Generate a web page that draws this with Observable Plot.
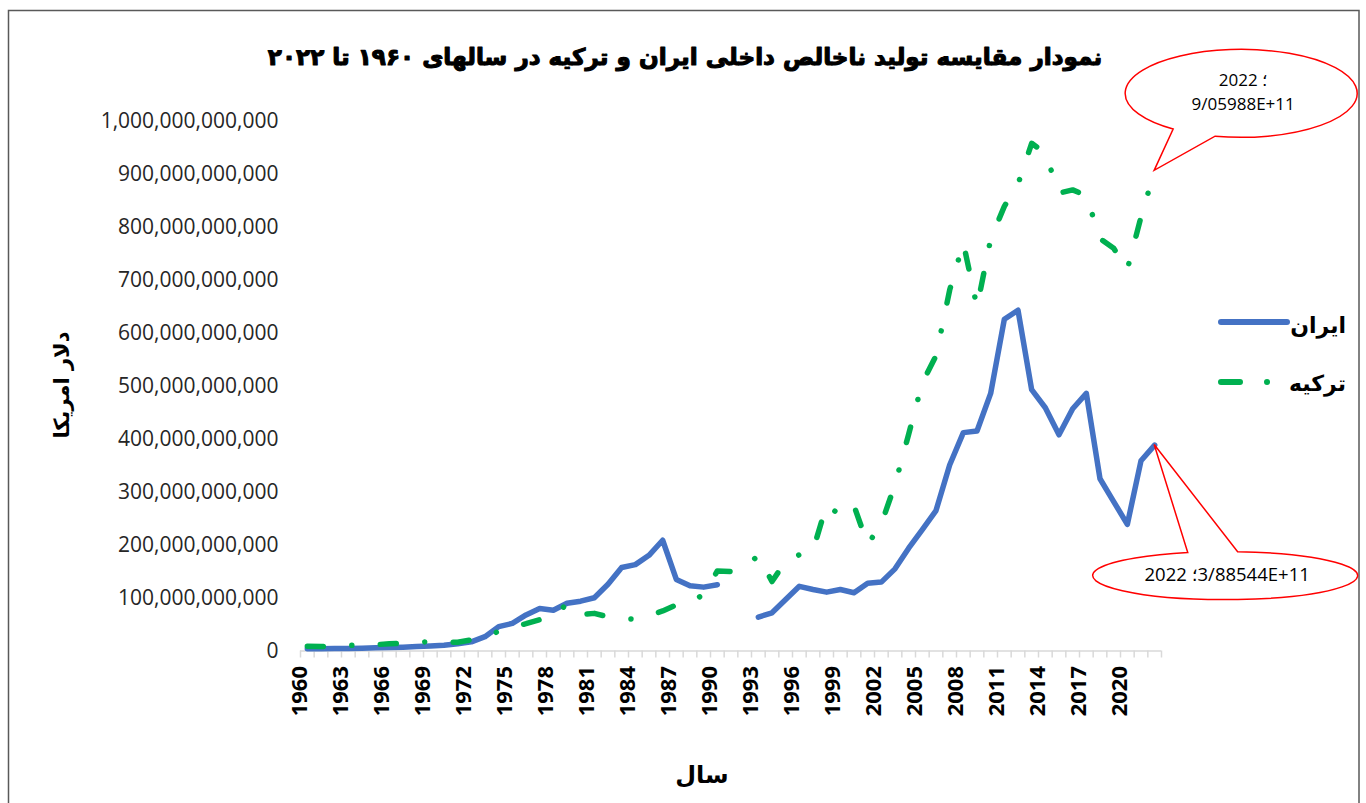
<!DOCTYPE html>
<html><head><meta charset="utf-8">
<script src="https://cdn.jsdelivr.net/npm/d3@7"></script>
<script src="https://cdn.jsdelivr.net/npm/@observablehq/plot@0.6"></script>
<style>
html,body{margin:0;padding:0;background:#fff;}
#chart svg{display:block;}
</style></head><body><div id="chart"></div>
<script>
// ---- data (billions of US dollars) ----
const years = d3.range(1960, 2023);
const iranGDP = [4.2,4.4,4.7,4.9,5.4,6.2,6.6,7.3,8.4,9.5,
  11,13.7,17.2,27,46,52,68,80,77,90,
  94,100.5,126,157.6,163,180.6,209,135,123,120.5,
  125,null,null,64,72,97,122,116,111,116,
  110,128,130,155,194,229,265,351,412,415,
  486,626,643,493,459,408,457,486,325,282,
  239,359,388.5];
const turkeyGDP = [9,8.5,9.5,10.5,11,12,13.5,14.5,16,18,
  17,16.5,21,27,37,45,51.5,59,65,89,
  69,71,64.5,61.5,60,67,75.5,87,91,107,
  151,150,158.5,180,131,169.5,181.5,190,276,256,
  274,201,240,314,409,506,557,681,770,649,
  777,839,881,958,939,864,870,859,778,760,
  720,819,906];
const seriesNames = ["ایران", "ترکیه"];
const seriesColors = ["#4472C4", "#00B050"];
const yearLabels = [1960,1963,1966,1969,1972,1975,1978,1981,1984,1987,1990,1993,1996,1999,2002,2005,2008,2011,2014,2017,2020];
const yTicks = [0,1e11,2e11,3e11,4e11,5e11,6e11,7e11,8e11,9e11,1e12];
const titleText = "نمودار مقایسه تولید ناخالص داخلی ایران و ترکیه در سالهای ۱۹۶۰ تا ۲۰۲۲";
const yTitle = "دلار امریکا";
const xTitle = "سال";
const callouts = [
  {year: 2022, value: 905.988e9, lines: ["2022 ؛", "9/05988E+11"]},
  {year: 2022, value: 388.544e9, lines: ["2022 ؛3/88544E+11"]}
];

const rows = years.map((y, i) => ({
  year: y,
  iran: iranGDP[i] == null ? NaN : iranGDP[i] * 1e9,
  turkey: turkeyGDP[i] * 1e9
}));
const halfYearTicks = d3.range(1959.5, 2023, 1);

const plot = Plot.plot({
  width: 1366,
  height: 803,
  marginLeft: 300,
  marginRight: 205,
  marginTop: 120.5,
  marginBottom: 152.5,
  style: {fontFamily: "'Open Sans', 'DejaVu Sans', sans-serif", fontSize: "21px", background: "white", color: "#262626", overflow: "visible"},
  x: {domain: [1959.5, 2022.5], ticks: halfYearTicks, tickSize: 7, tickFormat: () => "", label: null},
  y: {domain: [0, 1e12], ticks: yTicks, tickSize: 0, tickPadding: 22, tickFormat: d3.format(",.0f"), label: null},
  marks: [
    Plot.ruleY([0], {stroke: "#d9d9d9", strokeWidth: 1.5}),
    Plot.text(yearLabels, {x: d => d, text: d => String(d), frameAnchor: "bottom", dy: 15, rotate: -90, textAnchor: "end", fontWeight: "bold", fontSize: 22, fill: "#000"}),
    Plot.line(rows, {x: "year", y: "iran", stroke: seriesColors[0], strokeWidth: 5.5, strokeLinejoin: "round", strokeLinecap: "round"}),
    Plot.line(rows, {x: "year", y: "turkey", stroke: seriesColors[1], strokeWidth: 5.5, strokeLinejoin: "round", strokeLinecap: "round", strokeDasharray: "16,28.5,0.01,28.5"})
  ]
});
document.getElementById("chart").appendChild(plot);

const svg = d3.select(plot);
svg.selectAll('[aria-label^="x-axis"] line, [aria-label^="x-axis"] path').attr("stroke", "#d9d9d9").attr("stroke-width", 1.5);

const sx = plot.scale("x"), sy = plot.scale("y");
const X = sx.apply ? v => sx.apply(v) : d3.scaleLinear(sx.domain, sx.range);
const Y = sy.apply ? v => sy.apply(v) : d3.scaleLinear(sy.domain, sy.range);

// frame
svg.append("rect").attr("x", 8.5).attr("y", 10.5).attr("width", 1350.5).attr("height", 830)
  .attr("fill", "none").attr("stroke", "#595959").attr("stroke-width", 1.5);

// title
const title = svg.append("text").attr("x", 685).attr("y", 58)
  .attr("text-anchor", "middle").attr("dominant-baseline", "middle")
  .attr("font-family", "'DejaVu Sans', sans-serif").attr("font-weight", "bold")
  .attr("font-size", 26).attr("fill", "#000").attr("stroke", "#000").attr("stroke-width", 1.1)
  .attr("stroke-linejoin", "round").text(titleText);
const tl = title.node().getComputedTextLength();
if (tl > 0) title.attr("font-size", 26 * 835 / tl);

// axis titles
svg.append("text").attr("transform", "translate(63,385) rotate(-90)")
  .attr("text-anchor", "middle").attr("dominant-baseline", "middle")
  .attr("font-family", "'DejaVu Sans', sans-serif").attr("font-weight", "bold")
  .attr("font-size", 21).attr("fill", "#000").text(yTitle);
svg.append("text").attr("x", 702).attr("y", 776)
  .attr("text-anchor", "middle").attr("dominant-baseline", "middle")
  .attr("font-family", "'DejaVu Sans', sans-serif").attr("font-weight", "bold")
  .attr("font-size", 24).attr("fill", "#000").text(xTitle);

// legend
const lg = svg.append("g");
lg.append("line").attr("x1", 1221).attr("x2", 1287).attr("y1", 322).attr("y2", 322)
  .attr("stroke", seriesColors[0]).attr("stroke-width", 6).attr("stroke-linecap", "round");
lg.append("line").attr("x1", 1221).attr("x2", 1290).attr("y1", 382).attr("y2", 382)
  .attr("stroke", seriesColors[1]).attr("stroke-width", 6).attr("stroke-linecap", "round")
  .attr("stroke-dasharray", "19,27,0.01,60");
seriesNames.forEach((n, i) => {
  lg.append("text").attr("x", 1346).attr("y", i ? 385 : 327)
    .attr("text-anchor", "end").attr("dominant-baseline", "middle")
    .attr("font-family", "'DejaVu Sans', sans-serif").attr("font-weight", "bold")
    .attr("font-size", 22).attr("fill", "#000").text(n);
});

// callouts
const bubbleGeom = [
  {dx: 87, dy: -77, rx: 116, ry: 44, a1: 125.9, a2: 103, fs: 17, lh: 24},
  {dx: 71, dy: 131, rx: 132.5, ry: 24, a1: -84.6, a2: -106.4, fs: 18.5, lh: 24}
];
callouts.forEach((c, i) => {
  const g = bubbleGeom[i];
  const tx = X(c.year), ty = Y(c.value);
  const cx = tx + g.dx, cy = ty + g.dy;
  const p = a => [cx + g.rx * Math.cos(a * Math.PI / 180), cy + g.ry * Math.sin(a * Math.PI / 180)];
  const [x1, y1] = p(g.a1), [x2, y2] = p(g.a2);
  svg.append("path")
    .attr("d", `M${x1},${y1} A${g.rx},${g.ry} 0 1 1 ${x2},${y2} L${tx},${ty} Z`)
    .attr("fill", "white").attr("stroke", "#FF0000").attr("stroke-width", 1.5).attr("stroke-linejoin", "miter");
  const n = c.lines.length;
  c.lines.forEach((t, j) => {
    svg.append("text").attr("x", cx + 2).attr("y", cy + (j - (n - 1) / 2) * g.lh)
      .attr("text-anchor", "middle").attr("dominant-baseline", "middle")
      .attr("font-family", "'Open Sans', 'DejaVu Sans', sans-serif")
      .attr("font-size", g.fs).attr("fill", "#000")
      .style("unicode-bidi", "bidi-override").style("direction", "ltr")
      .text(t);
  });
});
</script></body></html>
